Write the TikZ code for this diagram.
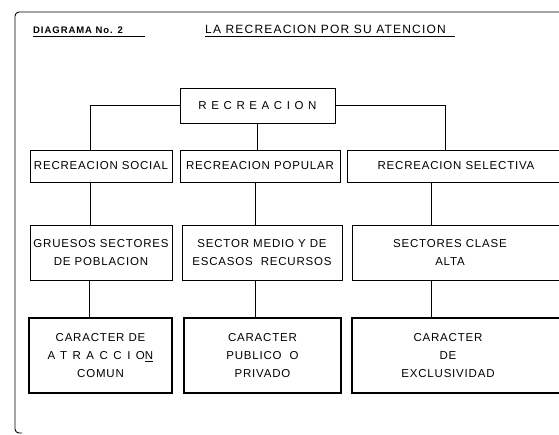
\documentclass[tikz,border=0pt]{standalone}
\usepackage{fontspec}
\setmainfont{Liberation Sans}
\newfontfamily\boxfont{Liberation Sans}[LetterSpace=7]
\newfontfamily\widefont{Liberation Sans}[LetterSpace=40]
\newfontfamily\atrfont{Liberation Sans}[LetterSpace=48]
\newfontfamily\titlefont{Liberation Sans}[LetterSpace=10]
\begin{document}
\begin{tikzpicture}[x=1pt,y=-1pt,
  box/.style={draw, line width=0.7pt, inner sep=0pt, align=center,
    font=\boxfont\fontsize{11.5}{18}\selectfont},
  heavy/.style={line width=1.1pt},
  link/.style={line width=0.7pt},
  boxtext/.style={align=center, inner sep=0pt, font=\boxfont\fontsize{11.5}{18}\selectfont}]
\useasboundingbox (0,0) rectangle (559,434);
\clip (0,0) rectangle (559,434);
% frame
\draw[line width=0.9pt, rounded corners=4pt] (559,12) -- (15,12) -- (15,433) -- (22,433);
% title
\node[anchor=base west, inner sep=0pt, font=\titlefont\bfseries\fontsize{9.5}{11}\selectfont] (t1) at (33,33) {DIAGRAMA No. 2};
\node[anchor=base west, inner sep=0pt, font=\titlefont\fontsize{12}{14}\selectfont] (t2) at (205,33) {LA RECREACION POR SU ATENCION};
\coordinate (u1) at (145,36.5);
\coordinate (u2) at (455,36.5);
\draw[line width=0.9pt] (t1.base west |- u1) -- (u1);
\draw[line width=0.9pt] (t2.base west |- u2) -- (u2);
% top box
\node[box, minimum width=155pt, minimum height=35pt, font=\widefont\fontsize{11.5}{12}\selectfont] (rec) at (257.5,105.5) {RECREACION};
% row 2
\node[box, minimum width=142pt, minimum height=32pt] (s1) at (101,166) {RECREACION SOCIAL};
\node[box, minimum width=160pt, minimum height=32pt] (s2) at (260,166) {RECREACION POPULAR};
\node[box, minimum width=238pt, minimum height=32pt] (s3) at (466,166) {};
\node[boxtext] (s3t) at (456,166) {RECREACION SELECTIVA};
% row 3
\node[box, minimum width=142pt, minimum height=55pt] (g1) at (101,252.5) {GRUESOS SECTORES\\DE POBLACION};
\node[box, minimum width=160pt, minimum height=55pt] (g2) at (262,252.5) {SECTOR MEDIO Y DE\\ESCASOS\ \ RECURSOS};
\node[box, minimum width=238pt, minimum height=55pt] (g3) at (471,252.5) {};
\node[boxtext] (g3t) at (450,252.5) {SECTORES CLASE\\ALTA};
% row 4
\node[box, heavy, minimum width=143pt, minimum height=75pt] (c1) at (100.5,355.5) {CARACTER DE\\{\atrfont ATRACCIO\underline{N}}\\COMUN};
\node[box, heavy, minimum width=157pt, minimum height=75pt] (c2) at (262.5,355.5) {CARACTER\\PUBLICO\ \ O\\PRIVADO};
\node[box, heavy, minimum width=238pt, minimum height=75pt] (c3) at (471,355.5) {};
\node[boxtext] (c3t) at (448,355.5) {CARACTER\\DE\\EXCLUSIVIDAD};
% connectors
\coordinate (xL) at (90,0);
\coordinate (xR) at (445,0);
\coordinate (xA) at (89,0);
\coordinate (xB) at (255,0);
\coordinate (xC) at (431,0);
\draw[link] (rec.west) -| (xL |- s1.north);
\draw[link] (rec.east) -| (xR |- s3.north);
\draw[link] (rec.south) -- (rec.south |- s2.north);
\draw[link] (xL |- s1.south) -- (xL |- g1.north);
\draw[link] (xB |- s2.south) -- (xB |- g2.north);
\draw[link] (xC |- s3.south) -- (xC |- g3.north);
\draw[line width=1pt] (xA |- g1.south) -- (xA |- c1.north);
\draw[link] (xB |- g2.south) -- (xB |- c2.north);
\draw[link] (xC |- g3.south) -- (xC |- c3.north);
\end{tikzpicture}
\end{document}
